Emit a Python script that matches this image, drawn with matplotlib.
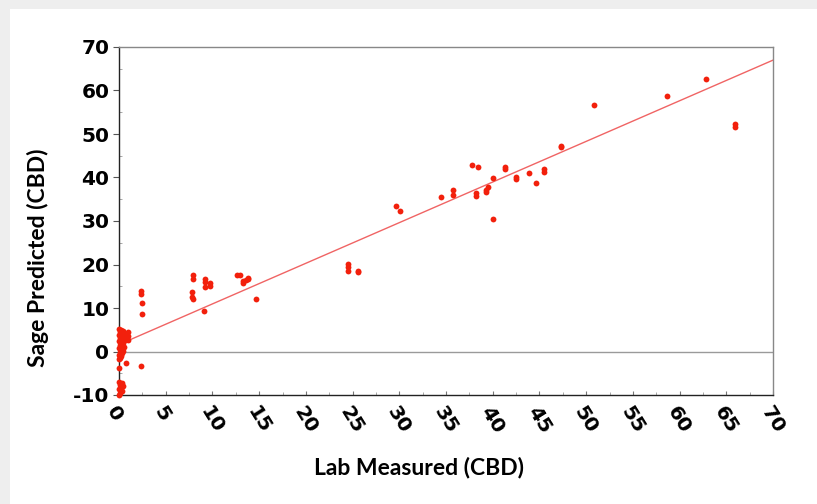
import numpy as np
import matplotlib
matplotlib.use('Agg')
import matplotlib.pyplot as plt
from matplotlib.patches import Rectangle
from matplotlib.ticker import MultipleLocator

# Lab measured vs Sage predicted CBD values

lab_measured = [
    0.0, 0.2, 0.4, 0.1, 0.3, 0.5, 0.0, 0.2, 0.4, 0.1, 0.3, 0.6, 0.0, 0.2, 0.4,
    0.1, 0.3, 0.5, 0.0, 0.2, 0.4, 0.1, 0.3, 0.0, 0.2, 0.1, 0.0, 0.0, 0.7,
    0.0, 0.3, 0.1, 0.4, 0.2, 0.0, 0.3, 0.1, 0.0,
    1.0, 1.0, 1.0,
    2.4, 2.4, 2.5, 2.5, 2.4,
    7.9, 7.9, 7.8, 7.8, 7.9,
    9.2, 9.2, 9.2, 9.1, 9.7, 9.7,
    12.6, 13.0, 13.3, 13.3, 13.6, 13.85, 13.85, 14.7,
    24.55, 24.55, 24.55, 25.6, 25.6,
    29.7, 30.1, 34.5, 35.8, 35.8, 37.8, 38.4, 38.2, 38.2, 39.3, 39.3, 39.5,
    40.0, 40.0, 41.3, 41.3, 42.5, 42.5, 43.9, 44.6, 45.5, 45.5, 47.3, 47.3,
    50.8, 58.7, 62.8, 65.95, 65.95,
]

sage_predicted = [
    5.2, 5.0, 4.8, 4.5, 4.3, 4.1, 3.9, 3.6, 3.4, 3.1, 2.9, 2.7, 2.4, 2.1, 1.9,
    1.6, 1.3, 1.0, 0.8, 0.5, 0.2, -0.1, -0.4, -0.7, -1.0, -1.4, -1.8, -3.9, -2.7,
    -6.9, -7.3, -7.7, -8.0, -8.3, -8.7, -9.0, -9.5, -9.9,
    4.4, 3.6, 2.7,
    13.8, 13.2, 11.2, 8.6, -3.3,
    17.5, 16.7, 13.6, 12.5, 12.0,
    16.6, 15.9, 14.9, 9.2, 15.8, 15.1,
    17.5, 17.7, 16.2, 15.8, 16.4, 17.0, 16.6, 12.0,
    20.1, 19.5, 18.6, 18.5, 18.2,
    33.5, 32.3, 35.6, 37.1, 36.0, 42.9, 42.3, 36.4, 35.7, 36.7, 37.1, 37.9,
    39.8, 30.4, 42.3, 41.9, 40.2, 39.6, 41.1, 38.8, 41.9, 41.3, 47.3, 46.9,
    56.7, 58.7, 62.6, 52.2, 51.6,
]

# Fitted regression line
fit_intercept = 1.6
fit_slope = 0.934

x_ticks = list(range(0, 75, 5))
y_ticks = list(range(-10, 80, 10))

# Figure with a white card on a light grey page

fig = plt.figure(figsize=(8.17, 5.04), dpi=100)
fig.patch.set_facecolor('#eeeeee')
card = Rectangle((10 / 817, 0), 1, 1 - 9 / 504, transform=fig.transFigure,
                 facecolor='white', edgecolor='none', zorder=-10)
fig.patches.append(card)

ax = fig.add_axes([119 / 817, 1 - 395 / 504, (773 - 119) / 817, (395 - 47) / 504])
ax.set_facecolor('white')
ax.set_zorder(5)

ax.axhline(0, color='#9a9a9a', linewidth=1, zorder=1)

fit_x = np.array([0, 70])
ax.plot(fit_x, fit_intercept + fit_slope * fit_x, color='#f06464', linewidth=1, zorder=2)

ax.plot(lab_measured, sage_predicted, linestyle='none', marker='o', markersize=4.2,
        color='#f2200c', markeredgewidth=0, zorder=3, clip_on=False)

ax.set_xlim(0, 70)
ax.set_ylim(-10, 70)
ax.set_xticks(x_ticks)
ax.set_yticks(y_ticks)
ax.xaxis.set_minor_locator(MultipleLocator(2.5))
ax.yaxis.set_minor_locator(MultipleLocator(5))

ax.set_xticklabels([str(t) for t in x_ticks], rotation=-58, ha='left', va='top',
                   rotation_mode='anchor', fontsize=14.5, fontweight='bold')
ax.set_yticklabels([str(t) for t in y_ticks], fontsize=14.5, fontweight='bold')

ax.tick_params(axis='x', which='major', direction='in', length=3, color='#777777', pad=6)
ax.tick_params(axis='x', which='minor', direction='in', length=2, color='#999999')
ax.tick_params(axis='y', which='major', direction='out', length=4, color='#555555', pad=3)
ax.tick_params(axis='y', which='minor', direction='in', length=2, color='#999999')

ax.spines['left'].set_color('#222222')
ax.spines['bottom'].set_color('#222222')
ax.spines['top'].set_color('#888888')
ax.spines['right'].set_color('#888888')
for s in ax.spines.values():
    s.set_linewidth(1)

ax.set_xlabel('Lab Measured (CBD)', fontsize=16.5, fontweight='bold', family='Lato')
ax.set_ylabel('Sage Predicted (CBD)', fontsize=16.5, fontweight='bold', family='Lato')
ax.xaxis.set_label_coords(0.459, -0.178)
ax.yaxis.set_label_coords(-0.107, 0.394)

plt.savefig('out.png', dpi=100, facecolor=fig.get_facecolor())
plt.close()
